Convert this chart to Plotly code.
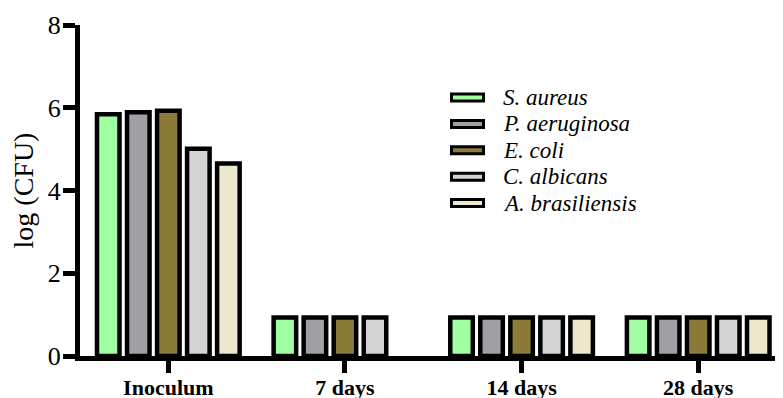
import plotly.graph_objects as go

categories = ["Inoculum", "7 days", "14 days", "28 days"]
series_names = ["S. aureus", "P. aeruginosa", "E. coli", "C. albicans", "A. brasiliensis"]
s_aureus = [5.84, 0.93, 0.93, 0.93]
p_aeruginosa = [5.89, 0.93, 0.93, 0.93]
e_coli = [5.93, 0.93, 0.93, 0.93]
c_albicans = [5.01, 0.93, 0.93, 0.93]
a_brasiliensis = [4.65, None, 0.93, 0.93]
colors = ["#A0FFA0", "#A09FA5", "#8C7B37", "#D4D4D4", "#EDE7CB"]
y_ticks = [0, 2, 4, 6, 8]

series_values = [s_aureus, p_aeruginosa, e_coli, c_albicans, a_brasiliensis]
FONT = "Liberation Serif"

fig = go.Figure()
for name, vals, col in zip(series_names, series_values, colors):
    fig.add_trace(go.Bar(
        x=categories, y=vals, name=name,
        marker=dict(color=col, line=dict(color="black", width=4.5)),
        showlegend=False,
    ))

# page body has an 8px margin, so the figure is 8px smaller and shifted
OFF = 8
W, H = 783 - OFF, 398 - OFF
L, R, T, B = 80 - OFF, 0, 25 - OFF, 42
pw, ph = W - L - R, H - T - B

def px_x(px):
    return (px - OFF - L) / pw

def px_y(py):
    return (H - B - (py - OFF)) / ph

shapes = []
annotations = []
for i, (name, col) in enumerate(zip(series_names, colors)):
    cy = 97.5 + 26.4 * i
    shapes.append(dict(type="rect", xref="paper", yref="paper",
                       x0=px_x(451.5), x1=px_x(483.5),
                       y0=px_y(cy + 3.5), y1=px_y(cy - 3.5),
                       fillcolor=col, line=dict(color="black", width=3)))
    annotations.append(dict(xref="paper", yref="paper", x=px_x(501), y=px_y(cy),
                            text="<i>" + name + "</i>", showarrow=False,
                            xanchor="left", yanchor="middle",
                            font=dict(family=FONT, size=23, color="black")))

fig.update_layout(
    width=W, height=H,
    margin=dict(l=L, r=R, t=T, b=B, pad=0, autoexpand=False),
    paper_bgcolor="white", plot_bgcolor="white",
    barmode="group", bargap=0.15, bargroupgap=0.25,
    shapes=shapes, annotations=annotations,
    font=dict(family=FONT, color="black"),
)
fig.update_xaxes(
    range=[-0.5, 3.48], showgrid=False, zeroline=False, automargin=False,
    showline=True, linecolor="black", linewidth=5,
    ticks="outside", ticklen=12, tickwidth=5, tickcolor="black",
    ticklabelstandoff=-4,
    tickfont=dict(family=FONT, size=22, color="black", weight="bold"),
)
fig.update_yaxes(
    range=[0, 8], tickvals=y_ticks, showgrid=False, zeroline=False, automargin=False,
    showline=True, linecolor="black", linewidth=5,
    ticks="outside", ticklen=12, tickwidth=5, tickcolor="black",
    ticklabelstandoff=-3,
    tickfont=dict(family=FONT, size=26, color="black"),
    title=dict(text="log (CFU)", font=dict(family=FONT, size=28, color="black"), standoff=13),
)

fig.write_html("out.html")
